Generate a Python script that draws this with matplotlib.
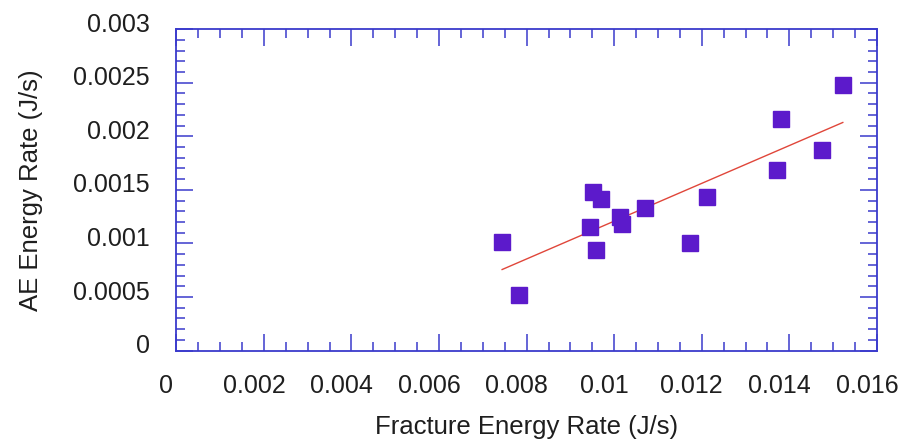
import numpy as np
import matplotlib
matplotlib.use("Agg")
import matplotlib.pyplot as plt
from matplotlib.ticker import MultipleLocator
from matplotlib.transforms import ScaledTranslation

fracture_rate = [0.00744, 0.00783, 0.00945, 0.00951, 0.00969, 0.00959, 0.01013,
                 0.01018, 0.01070, 0.01173, 0.01211, 0.01372, 0.01381, 0.01474, 0.01522]
ae_rate = [0.001017, 0.000516, 0.001157, 0.001478, 0.001418, 0.000940, 0.001245,
           0.001182, 0.001329, 0.001005, 0.001437, 0.001686, 0.002162, 0.001870, 0.002474]
x_ticks = [0, 0.002, 0.004, 0.006, 0.008, 0.01, 0.012, 0.014, 0.016]
x_tick_labels = ["0", "0.002", "0.004", "0.006", "0.008", "0.01", "0.012", "0.014", "0.016"]
y_ticks = [0, 0.0005, 0.001, 0.0015, 0.002, 0.0025, 0.003]
y_tick_labels = ["0", "0.0005", "0.001", "0.0015", "0.002", "0.0025", "0.003"]

plt.rcParams['font.family'] = ['Liberation Sans', 'DejaVu Sans']

fig = plt.figure(figsize=(9, 4.41), dpi=100)
ax = fig.add_axes([0.1959, 0.205, 0.7785, 0.729])

spine_col = '#3a3acc'
text_col = '#1e1e1e'
ax.plot(fracture_rate, ae_rate, linestyle='none', marker='s', markersize=11.5,
        color='#5c1acb', zorder=3)

coef = np.polyfit(fracture_rate, ae_rate, 1)
xf = np.array([min(fracture_rate), max(fracture_rate)])
ax.plot(xf, np.polyval(coef, xf), color='#e0463a', linewidth=1.0, zorder=2)

ax.set_xlim(0, 0.016)
ax.set_ylim(0, 0.003)
ax.set_xticks(x_ticks)
ax.set_xticklabels(x_tick_labels)
ax.set_yticks(y_ticks)
ax.set_yticklabels(y_tick_labels)
ax.xaxis.set_minor_locator(MultipleLocator(0.0005))
ax.yaxis.set_minor_locator(MultipleLocator(0.0001))

for s in ax.spines.values():
    s.set_color(spine_col)
    s.set_linewidth(1.3)

ax.tick_params(which='both', direction='in', top=True, right=True, color=spine_col,
               labelcolor=text_col, labelsize=18, width=1.1)
ax.tick_params(which='major', length=12)
ax.tick_params(which='minor', length=6.5)
ax.tick_params(axis='x', which='major', pad=17)
ax.tick_params(axis='y', which='major', pad=19)

dx = ScaledTranslation(-10 / 100, 0, fig.dpi_scale_trans)
for lab in ax.get_xticklabels():
    lab.set_transform(lab.get_transform() + dx)
dy = ScaledTranslation(0, 7 / 100, fig.dpi_scale_trans)
for lab in ax.get_yticklabels():
    lab.set_transform(lab.get_transform() + dy)

ax.set_xlabel('Fracture Energy Rate (J/s)', fontsize=18.5, color=text_col, labelpad=12)
ax.set_ylabel('AE Energy Rate (J/s)', fontsize=18.5, color=text_col, labelpad=22)

fig.savefig('out.png', dpi=100)
